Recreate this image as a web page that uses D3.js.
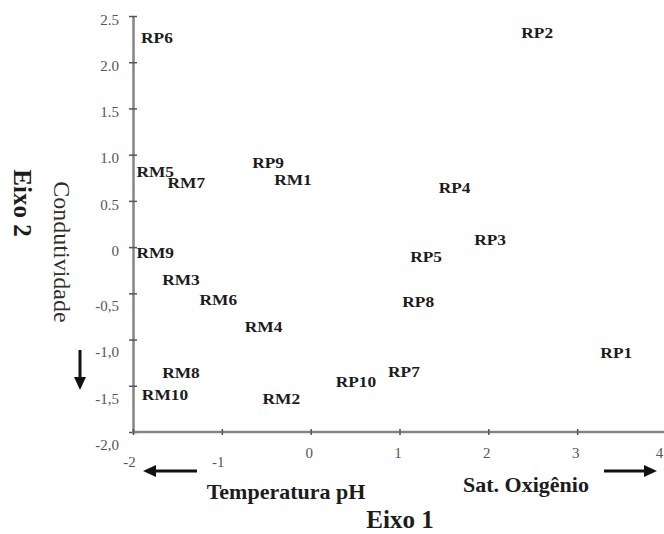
<!DOCTYPE html>
<html>
<head>
<meta charset="utf-8">
<script src="https://cdn.jsdelivr.net/npm/d3@7"></script>
<style>
    body { margin: 0; background: #fff; }
    text { font-family: "Liberation Serif", "Times New Roman", serif; }
</style>
</head>
<body>
<svg id="chart"></svg>
<script>
// Sites and their scores on the two axes
const sites = ['RP6', 'RP2', 'RP9', 'RM1', 'RP4', 'RP3', 'RP5', 'RP8', 'RM4', 'RP1',
    'RP7', 'RP10', 'RM2', 'RM5', 'RM7', 'RM9', 'RM3', 'RM6', 'RM8', 'RM10'];
const eixo1 = [-1.73, 2.55, -0.48, -0.20, 1.62, 2.02, 1.30, 1.21, -0.53, 3.44,
    1.05, 0.51, -0.33, -1.75, -1.40, -1.75, -1.46, -1.04, -1.46, -1.64];
const eixo2 = [2.26, 2.32, 0.91, 0.73, 0.64, 0.08, -0.11, -0.59, -0.86, -1.14,
    -1.35, -1.46, -1.64, 0.81, 0.69, -0.06, -0.35, -0.57, -1.36, -1.60];

const xTicks = [-2, -1, 0, 1, 2, 3, 4];
const xTickLabels = ['-2', '-1', '0', '1', '2', '3', '4'];
const yTicks = [2.5, 2, 1.5, 1, 0.5, 0, -0.5, -1, -1.5, -2];
const yTickLabels = ['2.5', '2.0', '1.5', '1.0', '0.5', '0', '-0,5', '-1,0', '-1,5', '-2,0'];

let c = {
    svg: { width: 664, height: 534 },
    axis: { color: '#858585', width: 2.5 },
    stretch: 1.12
};

let svg = d3.select('#chart')
    .attr('width', c.svg.width)
    .attr('height', c.svg.height);

let x = d3.scaleLinear().domain([-2, 4]).range([133, 666]);
let y = d3.scaleLinear().domain([-2, 2.5]).range([432, 16]);

// Axes
let yAxis = svg.append('g')
    .attr('transform', translate(x(-2), 0))
    .call(d3.axisLeft(y)
        .tickValues(yTicks)
        .tickSizeInner(4)
        .tickSizeOuter(0)
        .tickFormat((d, i) => yTickLabels[i]));

let xAxis = svg.append('g')
    .attr('transform', translate(0, y(-2)))
    .call(d3.axisBottom(x)
        .tickValues(xTicks)
        .tickSizeInner(3)
        .tickSizeOuter(0)
        .tickFormat((d, i) => xTickLabels[i]));

for (let ax of [xAxis, yAxis]) {
    ax.select('.domain')
        .attr('stroke', c.axis.color)
        .attr('stroke-width', c.axis.width);
    ax.selectAll('.tick line')
        .attr('stroke', '#555')
        .attr('stroke-width', 1.5);
    ax.selectAll('.tick text')
        .attr('fill', '#555')
        .style('font-size', '15px');
}
// ticks cross the axis line
yAxis.selectAll('.tick line').attr('x1', 4);
xAxis.selectAll('.tick line').attr('y1', -3);
xAxis.select('.domain').attr('d', 'M' + (x(-2) - 1) + ',0H' + c.svg.width);

// tick labels sit a bit off, as in the scanned figure
yAxis.selectAll('.tick text')
    .attr('x', -14)
    .attr('dy', d => d < 0 ? '1.15em' : '0.55em');
xAxis.selectAll('.tick text')
    .attr('x', d => d < 0 ? -4 : (d === 4 ? -7 : -2))
    .attr('dy', d => d < 0 ? '1.95em' : '1.3em');

// Site labels
let labels = svg.append('g').attr('id', 'plot')
    .selectAll('g')
    .data(sites)
    .join('g')
    .attr('transform', (d, i) => translate(x(eixo1[i]), y(eixo2[i])) + ' scale(' + c.stretch + ',1)');

labels.append('text')
    .attr('text-anchor', 'middle')
    .attr('dy', '0.33em')
    .attr('fill', '#1c1c1c')
    .style('font-size', '15.5px')
    .style('font-weight', 'bold')
    .text(d => d);

// Axis titles
let titles = svg.append('g').attr('id', 'text');

titles.append('text')
    .attr('transform', translate(286, 499))
    .attr('text-anchor', 'middle')
    .attr('fill', '#1c1c1c')
    .style('font-size', '22px')
    .style('font-weight', 'bold')
    .text('Temperatura pH');

titles.append('text')
    .attr('transform', translate(526, 492))
    .attr('text-anchor', 'middle')
    .attr('fill', '#1c1c1c')
    .style('font-size', '22px')
    .style('font-weight', 'bold')
    .text('Sat. Oxigênio');

titles.append('text')
    .attr('transform', translate(400, 528))
    .attr('text-anchor', 'middle')
    .attr('fill', '#1c1c1c')
    .style('font-size', '25px')
    .style('font-weight', 'bold')
    .text('Eixo 1');

titles.append('text')
    .attr('transform', translate(22, 203) + ' rotate(90)')
    .attr('text-anchor', 'middle')
    .attr('dominant-baseline', 'central')
    .attr('fill', '#1c1c1c')
    .style('font-size', '25px')
    .style('font-weight', 'bold')
    .text('Eixo 2');

titles.append('text')
    .attr('transform', translate(62, 252) + ' rotate(90)')
    .attr('text-anchor', 'middle')
    .attr('dominant-baseline', 'central')
    .attr('fill', '#2e2e2e')
    .style('font-size', '24px')
    .text('Condutividade');

// Arrows
let arrows = svg.append('g').attr('id', 'arrows');
drawArrow(arrows, [197, 471], [143, 471]);
drawArrow(arrows, [604, 471], [657, 471]);
drawArrow(arrows, [80, 350], [80, 390]);

/**
 * Draw a thick line with a filled triangular head at the end point
 */
function drawArrow(g, from, to) {
    let dx = to[0] - from[0], dy = to[1] - from[1];
    let len = Math.sqrt(dx * dx + dy * dy);
    let ux = dx / len, uy = dy / len;
    let head = 13, half = 6;
    let bx = to[0] - ux * head, by = to[1] - uy * head;
    g.append('line')
        .attr('x1', from[0]).attr('y1', from[1])
        .attr('x2', bx + ux * 2).attr('y2', by + uy * 2)
        .attr('stroke', '#111')
        .attr('stroke-width', 3);
    g.append('path')
        .attr('d', 'M' + to[0] + ',' + to[1] +
            'L' + (bx - uy * half) + ',' + (by + ux * half) +
            'L' + (bx + uy * half) + ',' + (by - ux * half) + 'Z')
        .attr('fill', '#111');
}

function translate(x, y) {
    return 'translate(' + x + ',' + y + ')';
}
</script>
</body>
</html>
